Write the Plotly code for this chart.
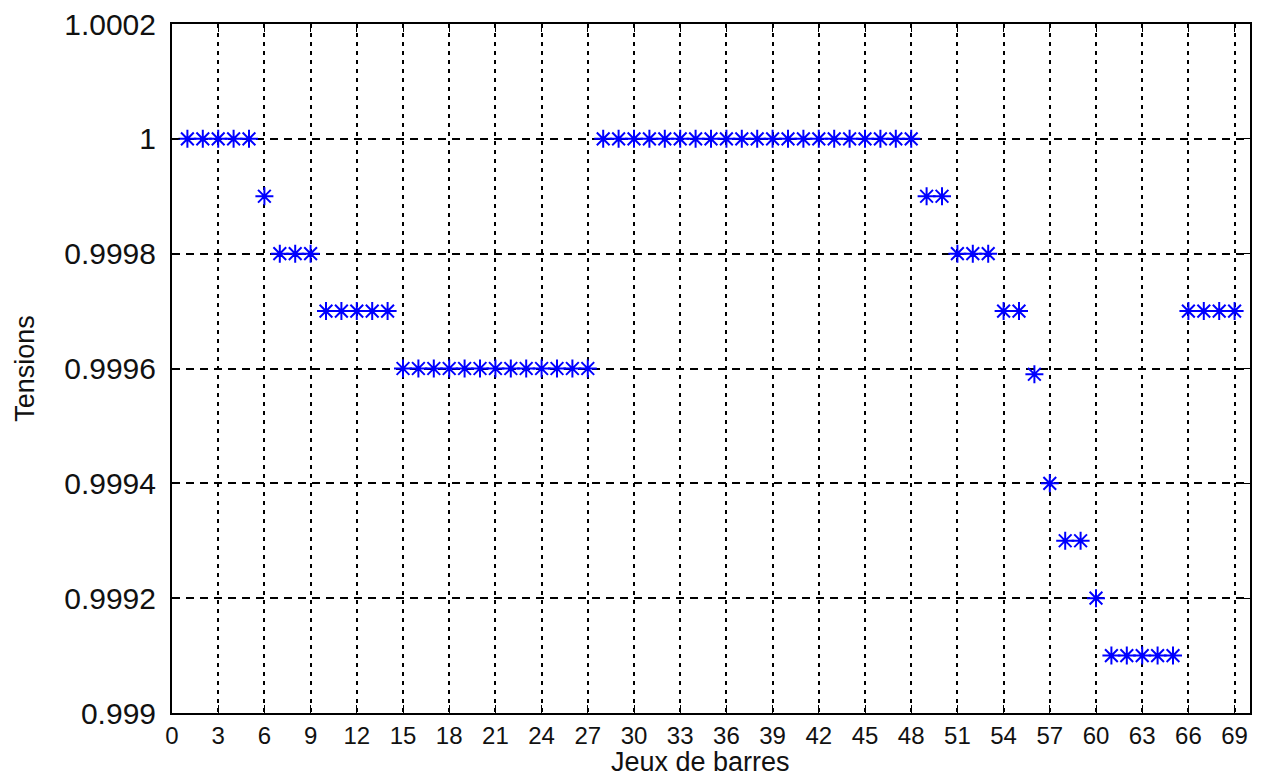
import plotly.graph_objects as go

# Data: bus index and voltage (p.u.)
jeux = list(range(1, 70))
tensions = (
    [1.0] * 5
    + [0.9999]
    + [0.9998] * 3
    + [0.9997] * 5
    + [0.9996] * 13
    + [1.0] * 21
    + [0.9999] * 2
    + [0.9998] * 3
    + [0.9997] * 2
    + [0.99959]
    + [0.9994]
    + [0.9993] * 2
    + [0.9992]
    + [0.9991] * 5
    + [0.9997] * 4
)

x_ticks = list(range(0, 70, 3))
y_ticks = [0.999, 0.9992, 0.9994, 0.9996, 0.9998, 1.0, 1.0002]
y_ticktext = ["0.999", "0.9992", "0.9994", "0.9996", "0.9998", "1", "1.0002"]

fig = go.Figure()
fig.add_trace(go.Scatter(
    x=jeux, y=tensions, mode="markers",
    marker=dict(symbol="asterisk-open", size=15, color="#0000ff",
                line=dict(color="#0000ff", width=2)),
    showlegend=False,
))

fam = "Liberation Sans, Arial, sans-serif"
xtick_font = dict(family=fam, size=24, color="#111111")
ytick_font = dict(family=fam, size=30, color="#111111")
title_font = dict(family=fam, size=27, color="#111111")

# plot area in page pixels: x 172..1250, y 24..713 (page has 8px body margin)
fig.update_layout(
    width=1255, height=770,
    margin=dict(l=164, r=13, t=16, b=65),
    paper_bgcolor="white", plot_bgcolor="white",
    xaxis=dict(
        range=[0, 70], tickvals=x_ticks, ticks="inside", ticklen=8,
        tickcolor="black", showline=True, linecolor="black", linewidth=2,
        mirror="ticks", showgrid=True, gridcolor="black", griddash="4px,5px",
        gridwidth=1.5, zeroline=False, tickfont=xtick_font,
        ticklabelstandoff=0, ticklabeloverflow="allow", automargin=False,
    ),
    yaxis=dict(
        range=[0.999, 1.0002000001], tickvals=y_ticks, ticktext=y_ticktext,
        ticks="inside", ticklen=8, tickcolor="black", showline=True,
        linecolor="black", linewidth=2, mirror="ticks", showgrid=True,
        gridcolor="black", griddash="8px,6px", gridwidth=1.5, zeroline=False,
        tickfont=ytick_font, ticklabelstandoff=8, ticklabeloverflow="allow",
        automargin=False,
    ),
    annotations=[
        dict(text="Jeux de barres", xref="paper", yref="paper",
             x=0.49, y=-0.0945, xanchor="center", yanchor="bottom",
             showarrow=False, font=title_font, borderpad=0),
        dict(text="Tensions", xref="paper", yref="paper",
             x=-0.137, y=0.5, xanchor="center", yanchor="middle",
             textangle=-90, showarrow=False, font=title_font),
    ],
)

fig.write_html("out.html")
